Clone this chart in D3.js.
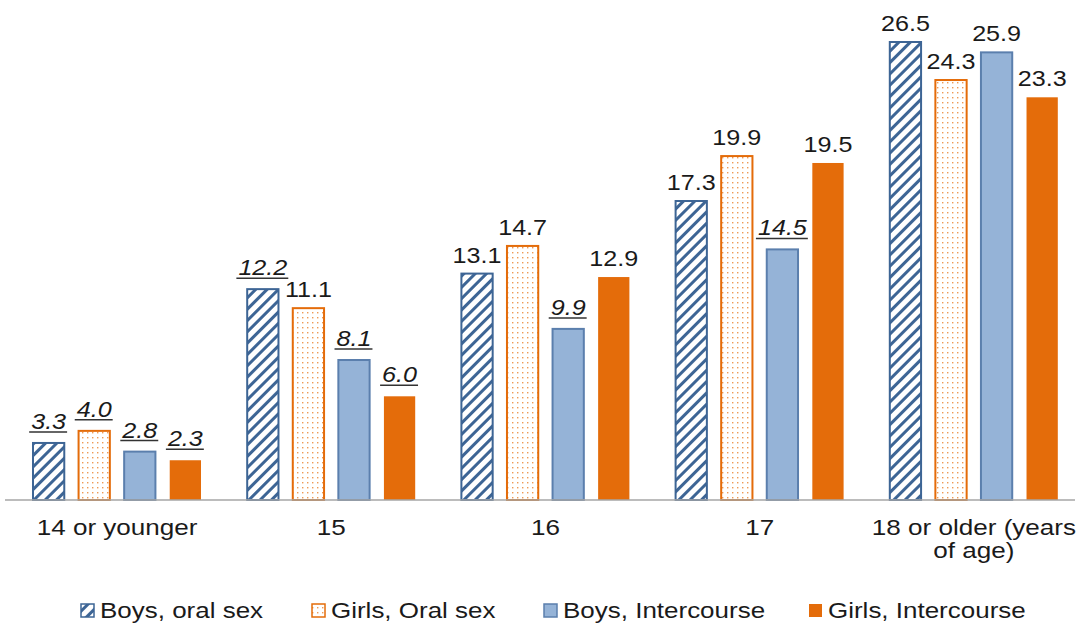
<!DOCTYPE html>
<html>
<head>
<meta charset="utf-8">
<script src="https://cdn.jsdelivr.net/npm/d3@7"></script>
<style>
  body { margin: 0; background: #fff; }
  svg text { font-family: "Liberation Sans", Arial, sans-serif; fill: #1a1a1a; }
</style>
</head>
<body>
<div id="chart"></div>
<script>
// data
var categories = ["14 or younger", "15", "16", "17", "18 or older (years|of age)"];
var seriesNames = ["Boys, oral sex", "Girls, Oral sex", "Boys, Intercourse", "Girls, Intercourse"];
var boysOral = [3.3, 12.2, 13.1, 17.3, 26.5];
var girlsOral = [4.0, 11.1, 14.7, 19.9, 24.3];
var boysInter = [2.8, 8.1, 9.9, 14.5, 25.9];
var girlsInter = [2.3, 6.0, 12.9, 19.5, 23.3];
// labels shown in italic + underline (flagged estimates)
var boysOralFlag = [true, true, false, false, false];
var girlsOralFlag = [true, false, false, false, false];
var boysInterFlag = [true, true, true, true, false];
var girlsInterFlag = [true, true, false, false, false];

var series = [boysOral, girlsOral, boysInter, girlsInter];
var flags = [boysOralFlag, girlsOralFlag, boysInterFlag, girlsInterFlag];

var width = 1080, height = 625;
var left = 10, right = 1081, baseY = 500, topY = 42;
var stretch = 1.17; // text in the original is a bit wide

var svg = d3.select("#chart").append("svg")
  .attr("width", width)
  .attr("height", height);

// patterns
var defs = svg.append("defs");
var hatch = defs.append("pattern")
  .attr("id", "hatch")
  .attr("patternUnits", "userSpaceOnUse")
  .attr("width", 8).attr("height", 8)
  .attr("patternTransform", "rotate(45)");
hatch.append("rect").attr("width", 8).attr("height", 8).attr("fill", "#fff");
hatch.append("rect").attr("x", 0).attr("width", 3).attr("height", 8).attr("fill", "#3d6595");

var dots = defs.append("pattern")
  .attr("id", "dots")
  .attr("patternUnits", "userSpaceOnUse")
  .attr("width", 5).attr("height", 5);
dots.append("rect").attr("width", 5).attr("height", 5).attr("fill", "#fff");
dots.append("rect").attr("x", 2).attr("y", 2).attr("width", 1.4).attr("height", 1.4).attr("fill", "#ee9a55");

var fills = ["url(#hatch)", "url(#dots)", "#95b3d7", "#e46c0a"];
var strokes = ["#3d6595", "#e46c0a", "#5b7fad", "#e46c0a"];

// scales
var x0 = d3.scaleBand().domain(categories).range([left, right]);
var x1 = d3.scaleBand().domain(d3.range(4)).range([22, 192]).paddingInner(0.27);
var y = d3.scaleLinear().domain([0, 26.5]).range([baseY, topY]);

// wide text helper
function wideText(g, x, yy, size, str) {
  return g.append("text")
    .attr("transform", "translate(" + x + "," + yy + ") scale(" + stretch + ",1)")
    .attr("text-anchor", "middle")
    .attr("font-size", size)
    .text(str);
}

// bars
series.forEach(function(vals, s) {
  svg.append("g").selectAll("rect")
    .data(vals)
    .enter().append("rect")
    .attr("x", function(d, i) { return x0(categories[i]) + x1(s) + 1; })
    .attr("y", function(d) { return y(d); })
    .attr("width", x1.bandwidth() - 2)
    .attr("height", function(d) { return baseY - y(d); })
    .attr("fill", fills[s])
    .attr("stroke", strokes[s])
    .attr("stroke-width", s === 3 ? 0 : 2);

  var g = svg.append("g");
  vals.forEach(function(d, i) {
    var cx = x0(categories[i]) + x1(s) + x1.bandwidth() / 2;
    var flagged = flags[s][i];
    var by = y(d) - (flagged ? 14 : 11);
    var t = wideText(g, cx, by, 21.5, d.toFixed(1))
      .attr("font-style", flagged ? "italic" : "normal");
    if (flagged) {
      var w = t.node().getComputedTextLength() * stretch;
      g.append("line")
        .attr("x1", cx - w / 2 - 2).attr("x2", cx + w / 2 + 1)
        .attr("y1", by + 3).attr("y2", by + 3)
        .attr("stroke", "#333")
        .attr("stroke-width", 1.5);
    }
  });
});

// axis
var axis = svg.append("g")
  .attr("transform", "translate(0," + baseY + ")")
  .call(d3.axisBottom(x0).tickSize(0).tickFormat(""));
axis.select(".domain").attr("stroke", "#a6a6a6").attr("stroke-width", 1.5)
  .attr("d", "M5,0H1075");

var labG = svg.append("g");
categories.forEach(function(c) {
  c.split("|").forEach(function(p, k) {
    wideText(labG, x0(c) + x0.bandwidth() / 2, 535 + k * 23, 22.3, p);
  });
});

// legend
var legendX = [80, 311, 543, 808];
var legend = svg.append("g");
seriesNames.forEach(function(n, s) {
  legend.append("rect")
    .attr("x", legendX[s] + 1).attr("y", 604)
    .attr("width", 13).attr("height", 13)
    .attr("fill", fills[s])
    .attr("stroke", strokes[s])
    .attr("stroke-width", s === 3 ? 0 : 1.5);
  wideText(legend, legendX[s] + 20, 618, 22.2, n).attr("text-anchor", "start");
});
</script>
</body>
</html>
